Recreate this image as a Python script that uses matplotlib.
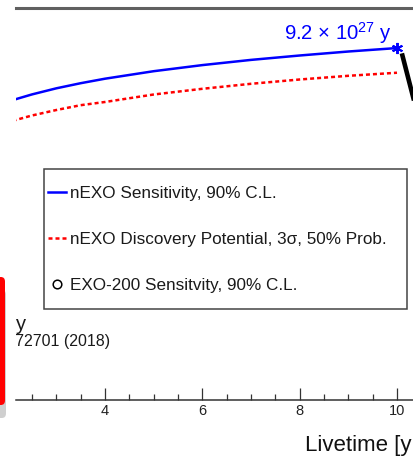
import matplotlib
matplotlib.use("Agg")
import matplotlib.pyplot as plt
from matplotlib.lines import Line2D
from matplotlib.patches import Rectangle, FancyBboxPatch
from matplotlib.ticker import MultipleLocator, NullLocator
import numpy as np

plt.rcParams["font.family"] = ["Liberation Sans", "DejaVu Sans"]
plt.rcParams["mathtext.fontset"] = "custom"
plt.rcParams["mathtext.rm"] = "Liberation Sans"
plt.rcParams["mathtext.default"] = "regular"

# --- data -------------------------------------------------------------
livetime = [2.1, 2.2, 2.5, 3.0, 3.5, 4.0, 5.0, 6.0, 7.0, 8.0, 9.0, 10.0]   # years
sensitivity = [3.34e27, 3.445e27, 3.744e27, 4.214e27, 4.653e27, 5.077e27,
               5.872e27, 6.609e27, 7.312e27, 7.962e27, 8.603e27, 9.2e27]  # 90% C.L. [y]
discovery = [2.24e27, 2.301e27, 2.488e27, 2.767e27, 3.038e27, 3.233e27,
             3.738e27, 4.175e27, 4.6e27, 5.0e27, 5.371e27, 5.7e27]         # 3 sigma, 50% [y]
drop_x = [10.1, 10.45]
drop_y = [8.3e27, 2.3e27]

legend_labels = ["nEXO Sensitivity, 90% C.L.",
                 "nEXO Discovery Potential, 3\u03c3, 50% Prob.",
                 "EXO-200 Sensitvity, 90% C.L."]
exo200_label = "1.8 \u00d7 10$^{25}$ y"
exo200_ref = "PRL 120, 072701 (2018)"

# --- figure -----------------------------------------------------------
W, H = 414, 458
fig = plt.figure(figsize=(W / 100, H / 100), dpi=100)

ax_l, ax_r, ax_t, ax_b = 16, 440, 8, 400       # axes box in pixels
ax = fig.add_axes([ax_l / W, 1 - ax_b / H, (ax_r - ax_l) / W, (ax_b - ax_t) / H])

px_per_year = 48.67
ax.set_xlim(4 - (105 - ax_l) / px_per_year, 10 + (ax_r - 397) / px_per_year)
ax.set_yscale("log")
ax.set_ylim(1e25, 2e28)


def axx(px):
    return (px - ax_l) / (ax_r - ax_l)


def axy(py):
    return (ax_b - py) / (ax_b - ax_t)


blue = "#0000ff"
ax.plot(livetime, sensitivity, color=blue, lw=1.8, solid_capstyle="butt")
ax.plot(livetime, discovery, color="#ff0000", lw=1.8, linestyle=(0, (1.6, 1.2)))
ax.plot([livetime[-1]], [sensitivity[-1]], linestyle="none", marker=(6, 2, 0),
        ms=8, mew=1.4, color=blue)
ax.plot(drop_x, drop_y, color="black", lw=3.3, solid_capstyle="butt")

# value label for the end point
val = sensitivity[-1]
exp = int(np.floor(np.log10(val)))
mant = val / 10 ** exp
ax.annotate(f"{mant:.1f} \u00d7 10$^{{{exp}}}$ y", xy=(livetime[-1], val),
            xytext=(-5, 8), textcoords="offset pixels", ha="right",
            va="baseline", color=blue, fontsize=14.6)

# EXO-200 reference text (runs off the left edge)
ax.text(axx(27), axy(331), exo200_label, transform=ax.transAxes, ha="right",
        va="baseline", fontsize=14.5, color="#1a1a1a", clip_on=True)
ax.text(axx(110), axy(346), exo200_ref, transform=ax.transAxes, ha="right",
        va="baseline", fontsize=11.5, color="#1a1a1a", clip_on=True)

# axes styling
for side in ("left", "right"):
    ax.spines[side].set_visible(False)
ax.spines["top"].set_color("#606060")
ax.spines["top"].set_linewidth(2.2)
ax.spines["bottom"].set_color("#333333")
ax.spines["bottom"].set_linewidth(1.1)
ax.yaxis.set_major_locator(NullLocator())
ax.yaxis.set_minor_locator(NullLocator())
ax.xaxis.set_major_locator(MultipleLocator(2))
ax.xaxis.set_minor_locator(MultipleLocator(0.5))
ax.tick_params(axis="x", which="major", direction="in", length=8.5, width=0.9,
               color="#333333", labelsize=10.5, pad=3, labelcolor="#222222")
ax.tick_params(axis="x", which="minor", direction="in", length=4.3, width=0.9,
               color="#333333")
ax.tick_params(axis="y", which="both", left=False, labelleft=False)

ax.set_xlabel("Livetime [yr]", fontsize=16, color="#111111")
ax.xaxis.label.set_ha("left")
ax.xaxis.label.set_va("baseline")
ax.xaxis.set_label_coords(axx(305), axy(451))

# legend
frame = Rectangle((axx(44.3), axy(309.3)), axx(407) - axx(44.3),
                  axy(169) - axy(309.3), transform=ax.transAxes,
                  facecolor="white", edgecolor="#444444", lw=1.1, zorder=4)
ax.add_patch(frame)
handles = [Line2D([], [], color=blue, lw=1.8),
           Line2D([], [], color="#ff0000", lw=1.8, linestyle=(0, (1.6, 1.2))),
           Line2D([], [], linestyle="none", marker="o", ms=6.2, mfc="none",
                  mec="black", mew=1.1)]
leg = ax.legend(handles, legend_labels, loc="upper left",
                bbox_to_anchor=(axx(48), axy(186.3)), frameon=False,
                fontsize=12.3, handlelength=1.06, handletextpad=0.24,
                labelspacing=1.8, borderpad=0, borderaxespad=0, numpoints=1)
leg.set_zorder(5)
for t in leg.get_texts():
    t.set_color("#1a1a1a")

# red box at the left margin, with its drop shadow
shadow = FancyBboxPatch((-30 / W, 1 - 418 / H), 36 / W, (418 - 290) / H,
                        boxstyle="round,pad=0,rounding_size=0.01",
                        transform=fig.transFigure, facecolor="#c4c4c4",
                        edgecolor="none", alpha=0.8)
fig.patches.append(shadow)
box = FancyBboxPatch((-30 / W, 1 - 405 / H), 35 / W, (405 - 277) / H,
                     boxstyle="round,pad=0,rounding_size=0.01",
                     transform=fig.transFigure, facecolor="#ff0000",
                     edgecolor="none")
fig.patches.append(box)

fig.savefig("out.png", dpi=100)
